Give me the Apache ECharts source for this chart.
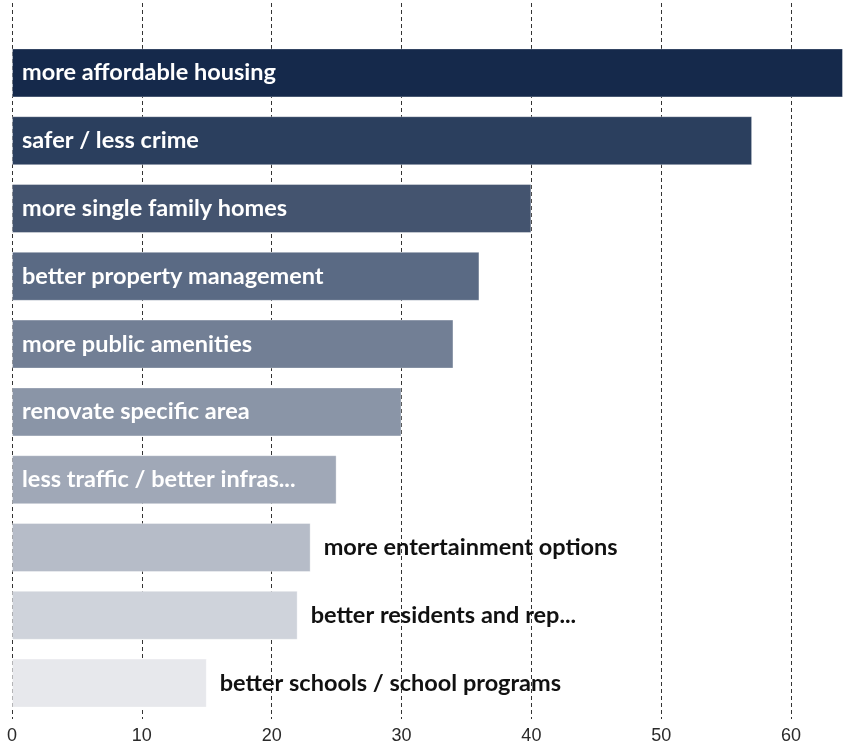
<!DOCTYPE html>
<html>
<head>
<meta charset="utf-8">
<style>
  html, body { margin: 0; padding: 0; background: #ffffff; }
  #chart { width: 843px; height: 747px; }
</style>
<script src="https://cdn.jsdelivr.net/npm/echarts@6/dist/echarts.min.js"></script>
</head>
<body>
<div id="chart"></div>
<script>
// Improvements people would like to see, by share of responses
const categories = [
  'more affordable housing',
  'safer / less crime',
  'more single family homes',
  'better property management',
  'more public amenities',
  'renovate specific area',
  'less traffic / better infras...',
  'more entertainment options',
  'better residents and rep...',
  'better schools / school programs'
];
const values = [64, 57, 40, 36, 34, 30, 25, 23, 22, 15];
const tickValues = [0, 10, 20, 30, 40, 50, 60];

// Navy-to-pale ramp, one shade per bar
const palette = [
  '#15294b', '#2b3f5e', '#44546f', '#5a6a84', '#727f95',
  '#8a95a7', '#a0a8b7', '#b6bcc8', '#cfd3db', '#e7e8ec'
];

const AXIS_MAX = 64;
const INSIDE_MIN = 25; // bars this long carry their label inside

const seriesData = values.map((v, i) => {
  const inside = v >= INSIDE_MIN;
  return {
    value: v,
    itemStyle: { color: palette[i] },
    label: inside
      ? { position: 'insideLeft', distance: 10, color: '#ffffff' }
      : { position: 'right', distance: 13, color: '#111111' }
  };
});

const chart = echarts.init(document.getElementById('chart'), null, { renderer: 'canvas' });

// plot runs past the right edge so the longest bar is cut by the frame
const GRID_LEFT = 12;
const GRID_RIGHT = -3.6;

chart.setOption({
  animation: false,
  grid: [
    // grid 0 carries the dashed guide lines and the tick labels
    { left: GRID_LEFT, right: GRID_RIGHT, top: 3, bottom: 28, containLabel: false },
    // grid 1 carries the bars
    { left: GRID_LEFT, right: GRID_RIGHT, top: 39, bottom: 30, containLabel: false }
  ],
  xAxis: [
    {
      gridIndex: 0,
      type: 'value',
      min: 0,
      max: AXIS_MAX,
      interval: 10,
      axisLine: { show: false },
      axisTick: { show: false },
      splitLine: {
        show: true,
        lineStyle: { color: '#333333', type: [4, 3], width: 1 }
      },
      axisLabel: {
        show: true,
        showMaxLabel: false,
        margin: 8,
        color: '#2a2a2a',
        fontFamily: 'Liberation Sans, Arial, sans-serif',
        fontSize: 18,
        formatter: v => (tickValues.indexOf(v) >= 0 ? String(v) : '')
      }
    },
    {
      gridIndex: 1,
      type: 'value',
      min: 0,
      max: AXIS_MAX,
      interval: 10,
      show: false,
      splitLine: { show: false }
    }
  ],
  yAxis: [
    {
      gridIndex: 0,
      type: 'value',
      min: 0,
      max: 1,
      show: false,
      splitLine: { show: false }
    },
    {
      gridIndex: 1,
      type: 'category',
      inverse: true,
      data: categories,
      show: false
    }
  ],
  series: [
    {
      type: 'bar',
      xAxisIndex: 1,
      yAxisIndex: 1,
      data: seriesData,
      barWidth: 49,
      itemStyle: {
        borderColor: 'rgba(255,255,255,0.35)',
        borderWidth: 1
      },
      label: {
        show: true,
        formatter: p => categories[p.dataIndex],
        fontFamily: 'Lato, "Open Sans", sans-serif',
        fontWeight: 'bold',
        fontSize: 23.5
      }
    }
  ]
});
</script>
</body>
</html>
